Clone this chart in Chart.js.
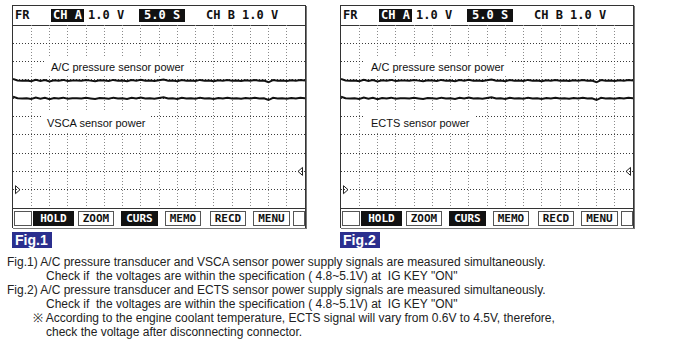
<!DOCTYPE html>
<html>
<head>
<meta charset="utf-8">
<script src="https://cdn.jsdelivr.net/npm/chart.js@4"></script>
<style>
  html, body { margin: 0; padding: 0; background: #fff; }
  body { width: 699px; height: 349px; position: relative; overflow: hidden; font-family: "Liberation Sans", Arial, sans-serif; }
  .panel { position: absolute; top: 5px; width: 294px; height: 223px; border: 1px solid #333; box-shadow: 1px 1px 0 #777; box-sizing: border-box; }
  .hdr { position: absolute; left: 0; top: 0; width: 100%; height: 20px; border-bottom: 1px solid #333; box-sizing: border-box; }
  .mono { position: absolute; top: 3px; font-family: "DejaVu Sans Mono", monospace; font-weight: bold; font-size: 12px; line-height: 13px; white-space: pre; color: #111; }
  .inv { background: #111; color: #fff; padding: 0 2px; }
  .plot { position: absolute; left: 0; top: 19px; }
  .bar { position: absolute; left: 0; top: 202px; width: 100%; height: 20px; border-top: 1px solid #333; box-sizing: border-box; background: #fff; }
  .btn { position: absolute; top: 2px; height: 15px; box-sizing: border-box; border: 1px solid #555; font-family: "DejaVu Sans Mono", monospace; font-weight: bold; font-size: 11px; line-height: 13px; text-align: center; color: #111; background: #fff; }
  .btn.on { background: #111; color: #fff; border-color: #111; }
  .lbl { position: absolute; background: #fff; font-size: 11px; line-height: 14px; color: #111; white-space: pre; padding: 4px 6px 2px 6px; }
  .fig { position: absolute; top: 232px; height: 16px; background: #2b2f8e; color: #fff; font-weight: bold; font-size: 14px; line-height: 16px; padding: 0 4px 0 3px; }
  .cap { position: absolute; font-size: 12px; line-height: 14px; color: #222; white-space: pre; }
</style>
</head>
<body>
<script>
// Scope settings shown in the header
const chAScale = "1.0 V";
const timeBase = "5.0 S";
const chBScale = "1.0 V";
const buttons = ["HOLD", "ZOOM", "CURS", "MEMO", "RECD", "MENU"];
const activeButtons = ["HOLD", "CURS"];

// Screen grid: 16 x 10 divisions, 1 V/div, 5 s/div
const divisionsX = 16;
const chAZeroDiv = 1;   // CH A ground marker (left) one division above the bottom
const chBZeroDiv = 2;   // CH B ground marker (right) two divisions above the bottom

// Sensor supply voltages (V) over the 80 s sweep
const chA = [5.08, 5.00, 4.98, 5.00, 4.96, 5.03, 4.97, 5.02, 4.95, 5.01, 4.98, 5.03, 4.97, 5.00, 5.00, 4.98,
             5.02, 4.99, 4.96, 5.01, 5.00, 4.97, 5.03, 4.98, 5.00, 4.96, 5.02, 4.99, 5.04, 4.98, 5.00, 4.97,
             5.01, 5.05, 4.98, 5.00, 4.96, 5.02, 4.99, 5.00, 4.97, 5.03, 4.98, 5.00, 4.96, 5.01, 4.99, 5.02,
             4.98, 5.00, 4.97, 5.01, 4.99, 5.03, 4.98, 5.00, 4.90, 5.02, 4.99, 5.00, 4.97, 5.01, 4.98, 5.02, 5.00];
const chB = [5.05, 4.97, 4.95, 4.97, 4.93, 5.00, 4.94, 4.99, 4.92, 4.98, 4.95, 5.00, 4.94, 4.97, 4.97, 4.95,
             4.99, 4.96, 4.93, 4.98, 4.97, 4.94, 5.00, 4.95, 4.97, 4.93, 4.99, 4.96, 5.01, 4.95, 4.97, 4.94,
             4.98, 5.02, 4.95, 4.97, 4.93, 4.99, 4.96, 4.97, 4.94, 5.00, 4.95, 4.97, 4.93, 4.98, 4.96, 4.99,
             4.95, 4.97, 4.94, 4.98, 4.96, 5.00, 4.95, 4.97, 4.87, 4.99, 4.96, 4.97, 4.94, 4.98, 4.95, 4.99, 4.97];

const panels = [
  { left: 12, fig: "Fig.1", labels: [
      { text: "A/C pressure sensor power", x: 32, y: 31 },
      { text: "VSCA sensor power", x: 28, y: 87 } ] },
  { left: 340, fig: "Fig.2", labels: [
      { text: "A/C pressure sensor power", x: 24, y: 31 },
      { text: "ECTS sensor power", x: 24, y: 87 } ] }
];

const captions = [
  { x: 7,  y: 255, text: "Fig.1) A/C pressure transducer and VSCA sensor power supply signals are measured simultaneously." },
  { x: 46, y: 269, text: "Check if  the voltages are within the specification ( 4.8~5.1V) at  IG KEY \"ON\"" },
  { x: 7,  y: 283, text: "Fig.2) A/C pressure transducer and ECTS sensor power supply signals are measured simultaneously." },
  { x: 46, y: 297, text: "Check if  the voltages are within the specification ( 4.8~5.1V) at  IG KEY \"ON\"" },
  { x: 33, y: 311, text: "※ According to the engine coolant temperature, ECTS signal will vary from 0.6V to 4.5V, therefore," },
  { x: 46, y: 325, text: "check the voltage after disconnecting connector." }
];

function el(tag, cls, parent, css, text) {
  const e = document.createElement(tag);
  if (cls) e.className = cls;
  if (css) Object.assign(e.style, css);
  if (text !== undefined) e.textContent = text;
  parent.appendChild(e);
  return e;
}

// Ground-level markers drawn at each channel's zero volts
const markerPlugin = {
  id: 'groundMarkers',
  afterDatasetsDraw(chart) {
    const c = chart.ctx, a = chart.chartArea;
    const ya = chart.scales.yA.getPixelForValue(0);
    const yb = chart.scales.yB.getPixelForValue(0);
    c.save();
    c.strokeStyle = '#222';
    c.lineWidth = 1;
    c.beginPath();
    c.moveTo(a.left + 2.5, ya - 4); c.lineTo(a.left + 7, ya); c.lineTo(a.left + 2.5, ya + 4); c.closePath();
    c.stroke();
    c.beginPath();
    c.moveTo(a.right - 2.5, yb - 4); c.lineTo(a.right - 7, yb); c.lineTo(a.right - 2.5, yb + 4); c.closePath();
    c.stroke();
    c.restore();
  }
};

panels.forEach(p => {
  const box = el('div', 'panel', document.body, { left: p.left + 'px' });
  const hdr = el('div', 'hdr', box);
  el('span', 'mono', hdr, { left: '2px' }, 'FR');
  el('span', 'mono inv', hdr, { left: '38px' }, 'CH A');
  el('span', 'mono', hdr, { left: '75px' }, chAScale);
  el('span', 'mono inv', hdr, { left: '126px', padding: '0 5px' }, timeBase);
  el('span', 'mono', hdr, { left: '193px' }, 'CH B ' + chBScale);

  const holder = el('div', 'plot', box);
  const cv = el('canvas', null, holder);
  cv.width = 292; cv.height = 183;
  cv.style.width = '292px'; cv.style.height = '183px';

  const step = 80 / (chA.length - 1);
  const edge = (ctx, lo, hi) => (ctx.tick.value <= lo || ctx.tick.value >= hi) ? 'rgba(0,0,0,0)' : null;

  new Chart(cv, {
    type: 'line',
    data: {
      datasets: [
        { label: 'CH A', yAxisID: 'yA', data: chA.map((v, i) => ({ x: i * step, y: v })) },
        { label: 'CH B', yAxisID: 'yB', data: chB.map((v, i) => ({ x: i * step, y: v })) }
      ]
    },
    options: {
      responsive: false,
      animation: false,
      devicePixelRatio: 1,
      layout: { padding: 0 },
      elements: { point: { radius: 0 }, line: { borderColor: '#111', borderWidth: 2, tension: 0 } },
      plugins: { legend: { display: false }, tooltip: { enabled: false } },
      scales: {
        x: {
          type: 'linear', min: 0, max: 80,
          ticks: { display: false, stepSize: 5 },
          grid: { drawTicks: false, lineWidth: 1, color: ctx => edge(ctx, 0, 80) || '#8a8a8a' },
          border: { display: false, dash: [1, 2] }
        },
        yA: {
          position: 'left', min: -chAZeroDiv, max: 10 - chAZeroDiv,
          ticks: { display: false, stepSize: 1 },
          grid: { drawTicks: false, lineWidth: 1, color: ctx => edge(ctx, -chAZeroDiv, 10 - chAZeroDiv) || '#3a3a3a' },
          border: { display: false, dash: [1, 2] }
        },
        yB: {
          position: 'right', min: -chBZeroDiv, max: 10 - chBZeroDiv,
          ticks: { display: false, stepSize: 1 },
          grid: { display: false, drawTicks: false },
          border: { display: false }
        }
      }
    },
    plugins: [markerPlugin]
  });

  p.labels.forEach(l => el('div', 'lbl', box, { left: l.x + 'px', top: (19 + l.y) + 'px' }, l.text));

  const bar = el('div', 'bar', box);
  const cells = [[0, 20], [20, 41], [65, 36], [108, 37], [152, 36], [197, 36], [240, 37], [280, 13]];
  el('div', 'btn', bar, { left: '1px', width: '18px' });
  buttons.forEach((b, i) => {
    const c = cells[i + 1];
    el('div', 'btn' + (activeButtons.includes(b) ? ' on' : ''), bar, { left: c[0] + 'px', width: c[1] + 'px' }, b);
  });
  el('div', 'btn', bar, { left: '280px', width: '12px' });

  el('div', 'fig', document.body, { left: p.left + 'px' }, p.fig);
});

captions.forEach(c => el('div', 'cap', document.body, { left: c.x + 'px', top: c.y + 'px' }, c.text));
</script>
</body>
</html>
